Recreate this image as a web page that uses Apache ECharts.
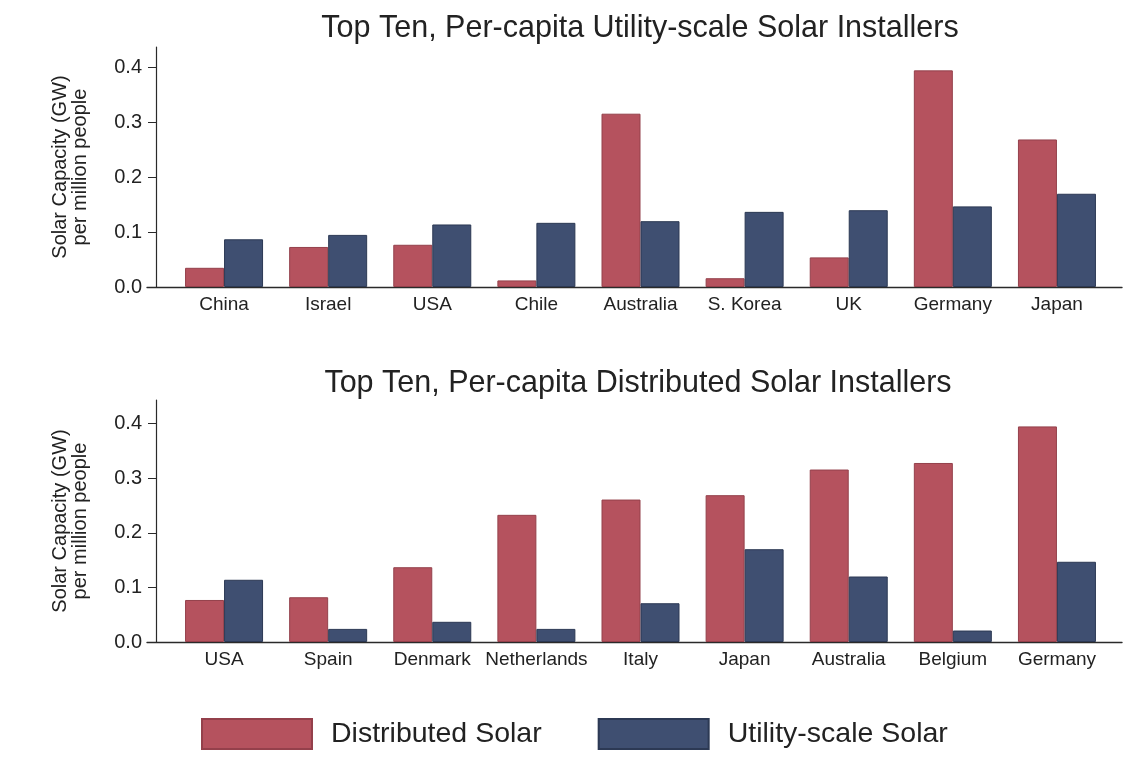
<!DOCTYPE html>
<html>
<head>
<meta charset="utf-8">
<script src="https://cdn.jsdelivr.net/npm/echarts@6/dist/echarts.min.js"></script>
<style>
html,body{margin:0;padding:0;background:#fff;}
#chart{width:1127px;height:758px;}
</style>
</head>
<body>
<div id="chart"></div>
<script>
// ---- data ----
const utilCats = ['China','Israel','USA','Chile','Australia','S. Korea','UK','Germany','Japan'];
const utilDistributed = [0.035,0.073,0.077,0.012,0.316,0.016,0.054,0.395,0.269];
const utilUtility = [0.087,0.095,0.114,0.117,0.120,0.137,0.140,0.147,0.170];

const distCats = ['USA','Spain','Denmark','Netherlands','Italy','Japan','Australia','Belgium','Germany'];
const distDistributed = [0.077,0.082,0.137,0.233,0.261,0.269,0.316,0.328,0.395];
const distUtility = [0.114,0.024,0.037,0.024,0.071,0.170,0.120,0.021,0.147];

const yTicks = [0,0.1,0.2,0.3,0.4];
const titles = ['Top Ten, Per-capita Utility-scale Solar Installers','Top Ten, Per-capita Distributed Solar Installers'];
const seriesNames = ['Distributed Solar','Utility-scale Solar'];
const yName = 'Solar Capacity (GW)\nper million people';

// ---- style ----
const FONT = '"Liberation Sans", Arial, Helvetica, sans-serif';
const TXT = '#222';
const AX = '#2a2a2a';
const RED = '#b5525e', RED_B = '#94404b';
const BLUE = '#3f4f71', BLUE_B = '#2c3954';

const chart = echarts.init(document.getElementById('chart'), null, {renderer:'canvas'});

function panel(idx, top, height, ymax, cats, dVals, uVals) {
  const gBar = idx*2, gFrame = idx*2+1;
  return {
    grids: [
      {left:172, width:937, top:top, height:height},
      {left:147, width:975, top:top, height:height}
    ],
    xAxes: [
      {type:'category', gridIndex:gBar, data:cats,
       axisLine:{show:false}, axisTick:{show:false},
       axisLabel:{color:TXT, fontSize:19, fontFamily:FONT, margin:8, interval:0}},
      {type:'value', gridIndex:gFrame, min:0, max:1,
       axisLine:{show:true, lineStyle:{color:AX, width:1.4}},
       axisTick:{show:false}, axisLabel:{show:false}, splitLine:{show:false}}
    ],
    yAxes: [
      {type:'value', gridIndex:gBar, min:0, max:ymax, offset:16,
       name:yName, nameLocation:'middle', nameGap:66, nameRotate:90,
       nameTextStyle:{color:TXT, fontSize:20, fontFamily:FONT, lineHeight:19.5},
       axisLine:{show:true, lineStyle:{color:AX, width:1.2}},
       axisTick:{show:true, length:8, customValues:yTicks, lineStyle:{color:AX}},
       axisLabel:{color:TXT, fontSize:20, fontFamily:FONT, margin:14, customValues:yTicks,
                  formatter:v=>v.toFixed(1)},
       splitLine:{show:false}},
      {type:'value', gridIndex:gFrame, min:0, max:1, show:false}
    ],
    series: [
      {name:seriesNames[0], type:'bar', xAxisIndex:gBar, yAxisIndex:gBar, data:dVals,
       barWidth:39, barGap:'0%',
       itemStyle:{color:RED, borderColor:RED_B, borderWidth:1}},
      {name:seriesNames[1], type:'bar', xAxisIndex:gBar, yAxisIndex:gBar, data:uVals,
       barWidth:39, barGap:'0%',
       itemStyle:{color:BLUE, borderColor:BLUE_B, borderWidth:1}}
    ]
  };
}

const p1 = panel(0, 47, 240, 0.4376, utilCats, utilDistributed, utilUtility);
const p2 = panel(1, 400, 242, 0.4434, distCats, distDistributed, distUtility);

const option = {
  animation:false,
  backgroundColor:'#ffffff',
  title:[
    {text:titles[0], left:640, top:13, textAlign:'center', padding:0,
     textStyle:{color:TXT, fontSize:30.5, fontWeight:'normal', fontFamily:FONT}},
    {text:titles[1], left:638, top:368, textAlign:'center', padding:0,
     textStyle:{color:TXT, fontSize:30.5, fontWeight:'normal', fontFamily:FONT}}
  ],
  legend:{
    data:seriesNames, left:201, top:718, orient:'horizontal', padding:0,
    itemWidth:110, itemHeight:30, itemGap:56, icon:'rect',
    textStyle:{color:TXT, fontSize:28.5, fontFamily:FONT, padding:[0,0,0,14]},
    selectedMode:false
  },
  grid:[...p1.grids, ...p2.grids],
  xAxis:[...p1.xAxes, ...p2.xAxes],
  yAxis:[...p1.yAxes, ...p2.yAxes],
  series:[...p1.series, ...p2.series]
};
chart.setOption(option);
</script>
</body>
</html>
